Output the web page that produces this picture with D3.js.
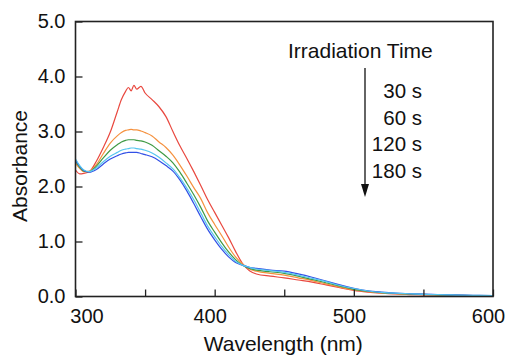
<!DOCTYPE html>
<html>
<head>
<meta charset="utf-8">
<script src="https://cdn.jsdelivr.net/npm/d3@7"></script>
<style>
    body { margin: 0; background: #fff; }
    svg text { font-family: "Liberation Sans", Arial, sans-serif; fill: #111; }
</style>
</head>
<body>
<div id="chart"></div>
<script>
var wavelengths = [300, 303, 306, 310, 315, 320, 325, 330, 333, 336, 338, 340, 342, 344, 347, 350,
    355, 360, 365, 370, 375, 380, 385, 390, 395, 400, 405, 410, 415, 420, 425, 430, 440, 450,
    460, 470, 480, 490, 500, 510, 520, 530, 540, 550, 560, 570, 580, 590, 600];

var abs0s = [2.30, 2.23, 2.24, 2.27, 2.46, 2.71, 2.99, 3.36, 3.58, 3.73, 3.80, 3.74, 3.84, 3.77, 3.82, 3.70,
    3.58, 3.45, 3.27, 3.00, 2.74, 2.51, 2.27, 2.02, 1.76, 1.53, 1.30, 1.07, 0.82, 0.60, 0.47, 0.41, 0.37, 0.34,
    0.30, 0.26, 0.21, 0.16, 0.11, 0.08, 0.06, 0.045, 0.035, 0.03, 0.025, 0.02, 0.015, 0.012, 0.01];
var abs30s = [2.42, 2.33, 2.27, 2.28, 2.40, 2.60, 2.79, 2.92, 2.98, 3.02, 3.03, 3.04, 3.03, 3.03, 3.01, 2.98,
    2.92, 2.81, 2.71, 2.57, 2.39, 2.19, 1.98, 1.78, 1.52, 1.31, 1.11, 0.90, 0.72, 0.59, 0.50, 0.46, 0.42, 0.39,
    0.34, 0.29, 0.23, 0.17, 0.12, 0.09, 0.065, 0.05, 0.04, 0.032, 0.027, 0.022, 0.018, 0.015, 0.012];
var abs60s = [2.46, 2.35, 2.28, 2.27, 2.37, 2.52, 2.66, 2.76, 2.81, 2.84, 2.85, 2.85, 2.85, 2.84, 2.83, 2.81,
    2.75, 2.65, 2.55, 2.43, 2.26, 2.06, 1.85, 1.62, 1.37, 1.17, 0.98, 0.81, 0.67, 0.57, 0.51, 0.48, 0.45, 0.42,
    0.37, 0.31, 0.25, 0.19, 0.13, 0.095, 0.07, 0.055, 0.045, 0.037, 0.03, 0.025, 0.02, 0.017, 0.014];
var abs120s = [2.50, 2.38, 2.30, 2.27, 2.34, 2.45, 2.55, 2.62, 2.66, 2.68, 2.69, 2.70, 2.70, 2.69, 2.68, 2.66,
    2.61, 2.53, 2.43, 2.32, 2.16, 1.97, 1.76, 1.52, 1.28, 1.09, 0.91, 0.76, 0.64, 0.57, 0.53, 0.50, 0.47, 0.44,
    0.39, 0.33, 0.27, 0.20, 0.145, 0.10, 0.075, 0.06, 0.05, 0.04, 0.033, 0.028, 0.023, 0.02, 0.017];
var abs180s = [2.48, 2.37, 2.29, 2.26, 2.31, 2.41, 2.50, 2.56, 2.59, 2.61, 2.62, 2.62, 2.62, 2.62, 2.60, 2.58,
    2.54, 2.47, 2.38, 2.28, 2.12, 1.92, 1.69, 1.45, 1.22, 1.03, 0.86, 0.72, 0.62, 0.57, 0.53, 0.51, 0.48, 0.46,
    0.41, 0.35, 0.28, 0.21, 0.15, 0.105, 0.08, 0.062, 0.052, 0.043, 0.036, 0.03, 0.025, 0.021, 0.018];

var seriesNames = ["0 s", "30 s", "60 s", "120 s", "180 s"];
var legendTimes = ["30 s", "60 s", "120 s", "180 s"];
var xTicks = [300, 350, 400, 450, 500, 550, 600];
var yTicks = [0, 1, 2, 3, 4, 5];

function go() {
    var width = 508, height = 356;
    var svg = d3.select("#chart").append("svg")
        .attr("width", width)
        .attr("height", height);

    var x = d3.scaleLinear().domain([300, 600]).range([75.5, 493]);
    var y = d3.scaleLinear().domain([0, 5]).range([296.5, 21.5]);

    var color = d3.scaleOrdinal()
        .domain(seriesNames)
        .range(["#e9483f", "#f5913e", "#3f9a44", "#56c6ef", "#3250e6"]);

    var series = [abs0s, abs30s, abs60s, abs120s, abs180s].map(function (vals, i) {
        return { name: seriesNames[i], values: vals.map(function (v, j) { return { w: wavelengths[j], a: v }; }) };
    });

    var line = d3.line()
        .x(function (d) { return x(d.w); })
        .y(function (d) { return y(d.a); })
        .curve(d3.curveMonotoneX);

    // draw blue before light blue so the cyan sits on top in the tail
    var order = [0, 1, 2, 4, 3];
    svg.append("g").selectAll("path")
        .data(order.map(function (i) { return series[i]; }))
        .enter().append("path")
        .attr("d", function (d) { return line(d.values); })
        .attr("fill", "none")
        .attr("stroke", function (d) { return color(d.name); })
        .attr("stroke-width", 1.2);

    // x axis, ticks inside, labels every 100 nm
    var xAxis = svg.append("g")
        .attr("transform", "translate(0," + y(0) + ")")
        .call(d3.axisBottom(x).tickValues(xTicks).tickSizeInner(-7).tickSizeOuter(0)
            .tickFormat(function (d) { return d % 100 === 0 ? d : ""; }));
    xAxis.selectAll("text")
        .attr("y", 26).attr("dy", 0)
        .attr("dx", function (d) { return d === 300 ? 11 : -5; })
        .style("font-size", "20px");

    var yAxis = svg.append("g")
        .attr("transform", "translate(" + x(300) + ",0)")
        .call(d3.axisLeft(y).tickValues(yTicks).tickSizeInner(-7).tickSizeOuter(0)
            .tickFormat(d3.format(".1f")));
    yAxis.selectAll("text")
        .attr("x", -10)
        .style("font-size", "20px");

    svg.selectAll(".domain").remove();
    svg.selectAll(".tick line").attr("stroke", "#222").attr("stroke-width", 1.3);

    // frame
    svg.append("rect")
        .attr("x", x(300)).attr("y", y(5))
        .attr("width", x(600) - x(300)).attr("height", y(0) - y(5))
        .attr("fill", "none")
        .attr("stroke", "#222")
        .attr("stroke-width", 1.6);

    svg.append("text")
        .attr("transform", "translate(27," + ((y(0) + y(5)) / 2 + 7) + ") rotate(-90)")
        .attr("text-anchor", "middle")
        .style("font-size", "21px")
        .text("Absorbance");

    svg.append("text")
        .attr("x", (x(300) + x(600)) / 2 - 1)
        .attr("y", 351)
        .attr("text-anchor", "middle")
        .style("font-size", "21px")
        .text("Wavelength (nm)");

    // legend: title, arrow, times
    svg.append("text")
        .attr("x", 288).attr("y", 58)
        .style("font-size", "21px")
        .text("Irradiation Time");

    svg.append("line")
        .attr("x1", 365).attr("y1", 68)
        .attr("x2", 365).attr("y2", 190)
        .attr("stroke", "#111")
        .attr("stroke-width", 1.3);
    svg.append("path")
        .attr("d", "M361,184L369,184L365,197Z")
        .attr("fill", "#111");

    svg.append("g").selectAll("text")
        .data(legendTimes)
        .enter().append("text")
        .attr("x", 422)
        .attr("y", function (d, i) { return 98 + i * 26.7; })
        .attr("text-anchor", "end")
        .style("font-size", "20.5px")
        .text(function (d) { return d; });
}

document.addEventListener("DOMContentLoaded", function () {
    go();
});
</script>
</body>
</html>
